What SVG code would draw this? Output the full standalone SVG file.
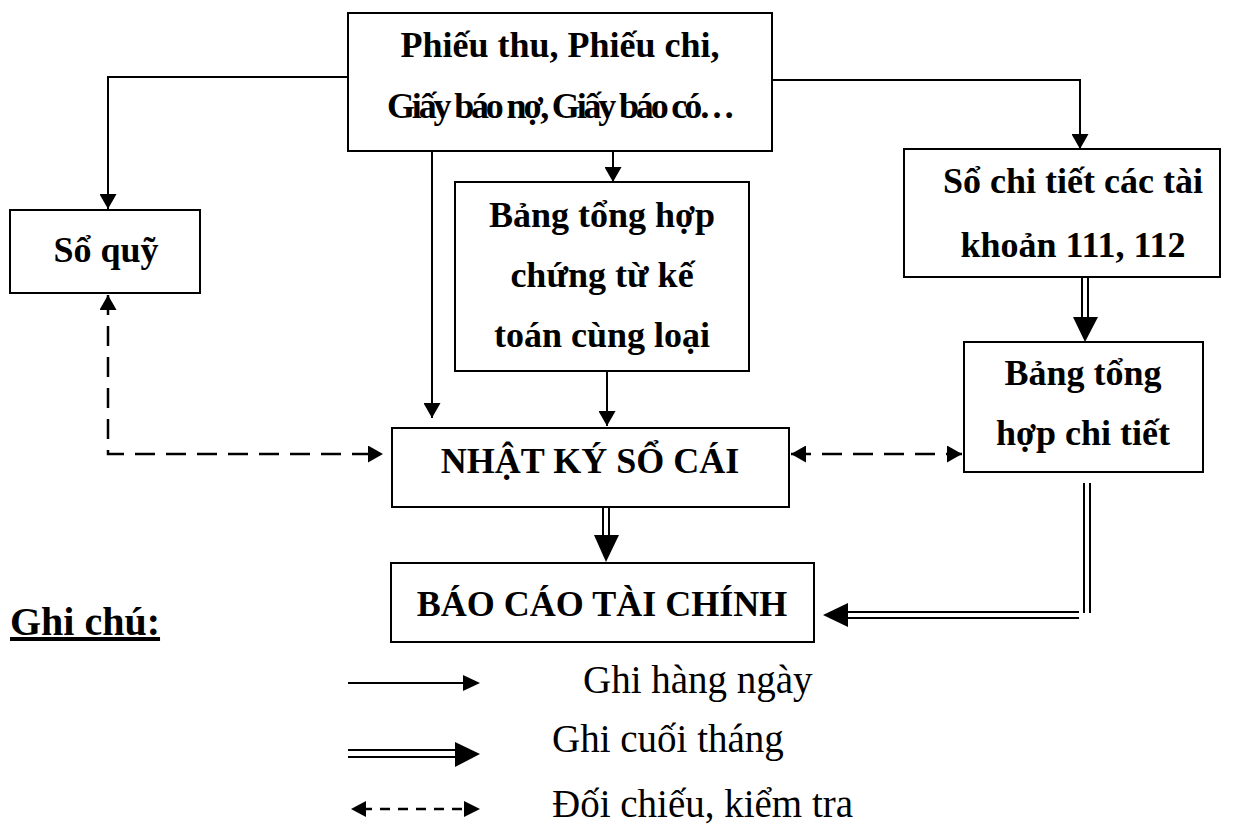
<svg xmlns="http://www.w3.org/2000/svg" width="1244" height="825" viewBox="0 0 1244 825">
<style>
.box{fill:#fff;stroke:#000;stroke-width:2}
.t{font-family:"Liberation Serif","Times New Roman",serif;font-weight:bold;font-size:36px;text-anchor:middle;fill:#000}
.lg{font-family:"Liberation Serif","Times New Roman",serif;font-size:39px;fill:#000}
.ln{fill:none;stroke:#000;stroke-width:2}
.dl{fill:none;stroke:#000;stroke-width:2}
.ds{fill:none;stroke:#000;stroke-width:2.5;stroke-dasharray:20 11}
.hd{fill:#000}
</style>
<defs>
<marker id="arr" viewBox="0 0 15 17" refX="15" refY="8.5" markerWidth="15" markerHeight="17" markerUnits="userSpaceOnUse" orient="auto-start-reverse">
<path d="M0,0 L15,8.5 L0,17 z" fill="#000"/>
</marker>
</defs>
<rect width="1244" height="825" fill="#fff"/>

<g id="connectors">
<path class="ln" d="M348,77 H108 V209" marker-end="url(#arr)"/>
<path class="ln" d="M772,80 H1080 V149" marker-end="url(#arr)"/>
<path class="ln" d="M613,151 V182" marker-end="url(#arr)"/>
<path class="ln" d="M432,151 V418" marker-end="url(#arr)"/>
<path class="ln" d="M607,371 V426" marker-end="url(#arr)"/>
<path class="ds" d="M108,295 V454 H383" marker-start="url(#arr)" marker-end="url(#arr)"/>
<path class="ds" d="M791,454 H962" marker-start="url(#arr)" marker-end="url(#arr)"/>
<g id="dbl1">
<line class="dl" x1="1082" y1="277" x2="1082" y2="318"/>
<line class="dl" x1="1088" y1="277" x2="1088" y2="318"/>
<polygon class="hd" points="1073,317 1098,317 1085,342"/>
</g>
<g id="dbl2">
<line class="dl" x1="603" y1="507" x2="603" y2="536"/>
<line class="dl" x1="609" y1="507" x2="609" y2="536"/>
<polygon class="hd" points="594,535 619,535 606,562"/>
</g>
<g id="dbl3">
<line class="dl" x1="1084" y1="483" x2="1084" y2="613"/>
<line class="dl" x1="1090" y1="483" x2="1090" y2="613"/>
<line class="dl" x1="1079" y1="612" x2="846" y2="612"/>
<line class="dl" x1="1079" y1="618" x2="846" y2="618"/>
<polygon class="hd" points="848,603 848,627 823,615"/>
</g>
</g>

<g id="n-chungtu">
<rect class="box" x="348" y="13" width="424" height="138"/>
<text class="t" x="560" y="57">Phiếu thu, Phiếu chi,</text>
<text class="t" x="561" y="118" textLength="348" lengthAdjust="spacing">Giấy báo nợ, Giấy báo có…</text>
</g>

<g id="n-soquy">
<rect class="box" x="10" y="210" width="190" height="83"/>
<text class="t" x="106" y="262">Sổ quỹ</text>
</g>

<g id="n-bangth">
<rect class="box" x="455" y="182" width="294" height="189"/>
<text class="t" x="602" y="227">Bảng tổng hợp</text>
<text class="t" x="602" y="287">chứng từ kế</text>
<text class="t" x="602" y="347">toán cùng loại</text>
</g>

<g id="n-sochitiet">
<rect class="box" x="904" y="149" width="316" height="128"/>
<text class="t" x="1073" y="193">Sổ chi tiết các tài</text>
<text class="t" x="1073" y="257">khoản 111, 112</text>
</g>

<g id="n-bangct">
<rect class="box" x="964" y="342" width="239" height="130"/>
<text class="t" x="1083" y="385">Bảng tổng</text>
<text class="t" x="1083" y="445">hợp chi tiết</text>
</g>

<g id="n-nhatky">
<rect class="box" x="392" y="428" width="397" height="79"/>
<text class="t" x="590" y="473">NHẬT KÝ SỔ CÁI</text>
</g>

<g id="n-baocao">
<rect class="box" x="391" y="563" width="423" height="79"/>
<text class="t" x="602" y="616">BÁO CÁO TÀI CHÍNH</text>
</g>

<g id="legend">
<text x="10" y="635" font-family="Liberation Serif, Times New Roman, serif" font-weight="bold" font-size="40" text-decoration="underline">Ghi chú:</text>
<line class="ln" x1="348" y1="683" x2="466" y2="683"/>
<polygon class="hd" points="463,675 480,683 463,691"/>
<line class="dl" x1="348" y1="750" x2="458" y2="750"/>
<line class="dl" x1="348" y1="757" x2="458" y2="757"/>
<polygon class="hd" points="455,742 480,754 455,767"/>
<line x1="362" y1="809" x2="466" y2="809" stroke="#000" stroke-width="2.5" stroke-dasharray="10 8"/>
<polygon class="hd" points="366,801 351,809 366,817"/>
<polygon class="hd" points="464,801 480,809 464,817"/>
<text class="lg" x="583" y="693">Ghi hàng ngày</text>
<text class="lg" x="552" y="752">Ghi cuối tháng</text>
<text class="lg" x="552" y="817">Đối chiếu, kiểm tra</text>
</g>
</svg>
